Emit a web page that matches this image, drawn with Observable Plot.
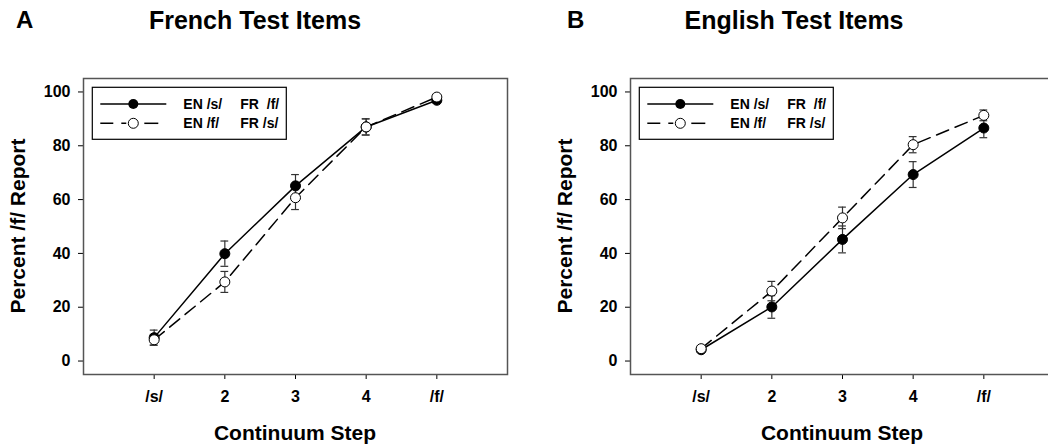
<!DOCTYPE html>
<html><head><meta charset="utf-8">
<script src="https://cdn.jsdelivr.net/npm/d3@7"></script>
<script src="https://cdn.jsdelivr.net/npm/@observablehq/plot@0.6"></script>
<style>
body{margin:0;background:#fff;}
#wrap{position:relative;width:1048px;height:445px;overflow:hidden;font-family:"Liberation Sans",Arial,sans-serif;font-weight:bold;color:#000;background:#fff;}
.abs{position:absolute;white-space:nowrap;line-height:1;}
.panel{position:absolute;top:0;width:520px;height:445px;}
.panel svg{max-width:none !important;}
</style></head><body><div id="wrap"></div>
<script>
// ---- data ----
const steps = [1, 2, 3, 4, 5];
const stepLabels = ["/s/", "2", "3", "4", "/f/"];
const yTicks = [0, 20, 40, 60, 80, 100];

const frenchSolid = [8.7, 39.9, 65.1, 87.0, 96.9];
const frenchSolidErr = [2.8, 4.7, 4.2, 3.0, 1.0];
const frenchOpen = [7.9, 29.4, 60.7, 87.0, 98.1];
const frenchOpenErr = [2.0, 3.9, 4.4, 3.0, 1.0];

const englishSolid = [4.2, 20.1, 45.2, 69.3, 86.6];
const englishSolidErr = [1.0, 4.2, 5.0, 4.8, 3.6];
const englishOpen = [4.6, 26.0, 53.2, 80.4, 91.3];
const englishOpenErr = [1.0, 3.6, 4.0, 3.0, 2.0];

const legendRows = [["EN /s/", "FR  /f/"], ["EN /f/", "FR /s/"]];
const panelLetters = ["A", "B"];
const panelTitles = ["French Test Items", "English Test Items"];
const xLabel = "Continuum Step";
const yLabel = "Percent /f/ Report";

// ---- build ----
const wrap = document.getElementById("wrap");
function rows(vals, errs) {
  return steps.map((s, i) => ({step: s, v: vals[i], lo: vals[i] - errs[i], hi: vals[i] + errs[i]}));
}
function addText(txt, style) {
  const d = document.createElement("div");
  d.className = "abs";
  d.textContent = txt;
  Object.assign(d.style, style);
  wrap.appendChild(d);
  return d;
}

function panel(offset, solid, solidErr, open, openErr, idx) {
  const S = rows(solid, solidErr), O = rows(open, openErr);
  const capHalf = 0.055;
  const errMarks = (D) => [
    Plot.ruleX(D, {x: "step", y1: "lo", y2: "hi", stroke: "#333", strokeWidth: 1.2}),
    Plot.ruleY(D, {y: "hi", x1: d => d.step - capHalf, x2: d => d.step + capHalf, stroke: "#333", strokeWidth: 1.2}),
    Plot.ruleY(D, {y: "lo", x1: d => d.step - capHalf, x2: d => d.step + capHalf, stroke: "#333", strokeWidth: 1.2})
  ];
  const p = Plot.plot({
    width: 520, height: 445,
    marginLeft: 83, marginRight: 13, marginTop: 78, marginBottom: 71,
    style: {fontFamily: "Liberation Sans, Arial, sans-serif", fontSize: "16px", fontWeight: "bold", background: "transparent", color: "#000", maxWidth: "none"},
    x: {domain: [0, 6]},
    y: {domain: [-5, 105]},
    marks: [
      Plot.axisY({ticks: yTicks, tickSize: 5, tickPadding: 8, label: null}),
      Plot.axisX({ticks: steps, tickFormat: d => stepLabels[steps.indexOf(d)], tickSize: 5, tickPadding: 11, label: null}),
      ...errMarks(S), ...errMarks(O),
      Plot.line(S, {x: "step", y: "v", stroke: "#000", strokeWidth: 1.5}),
      Plot.line(O, {x: "step", y: "v", stroke: "#000", strokeWidth: 1.5, strokeDasharray: "13,7"}),
      Plot.dot(S, {x: "step", y: "v", r: 5, fill: "#000", stroke: "#000", strokeWidth: 1}),
      Plot.dot(O, {x: "step", y: "v", r: 5, fill: "#fff", stroke: "#000", strokeWidth: 1}),
      Plot.frame({stroke: "#555", strokeWidth: 1.5})
    ]
  });
  const holder = document.createElement("div");
  holder.className = "panel";
  holder.style.left = offset + "px";
  holder.appendChild(p);
  wrap.appendChild(holder);

  // legend (inside the frame, top-left)
  const svg = d3.select(p);
  const bx = 92.3, by = 87.3, bw = 194, bh = 52;
  const g = svg.append("g").attr("text-anchor", "start");
  g.append("rect").attr("x", bx).attr("y", by).attr("width", bw).attr("height", bh)
    .attr("fill", "#fff").attr("stroke", "#000").attr("stroke-width", 1.2);
  const ry = [by + 16.7, by + 36];
  // row 1: solid
  g.append("line").attr("x1", bx + 8).attr("x2", bx + 74).attr("y1", ry[0]).attr("y2", ry[0]).attr("stroke", "#000").attr("stroke-width", 1.5);
  g.append("circle").attr("cx", bx + 41).attr("cy", ry[0]).attr("r", 5).attr("fill", "#000");
  // row 2: dashed
  g.append("line").attr("x1", bx + 8).attr("x2", bx + 34).attr("y1", ry[1]).attr("y2", ry[1]).attr("stroke", "#000").attr("stroke-width", 1.5).attr("stroke-dasharray", "13,8,6,50");
  g.append("line").attr("x1", bx + 52).attr("x2", bx + 66).attr("y1", ry[1]).attr("y2", ry[1]).attr("stroke", "#000").attr("stroke-width", 1.5);
  g.append("circle").attr("cx", bx + 41).attr("cy", ry[1]).attr("r", 5).attr("fill", "#fff").attr("stroke", "#000").attr("stroke-width", 1);
  legendRows.forEach((r, i) => {
    g.append("text").attr("x", bx + 91).attr("y", ry[i]).attr("dy", "0.35em").attr("font-size", 14).attr("font-weight", "bold").text(r[0]);
    g.append("text").attr("x", bx + 148).attr("y", ry[i]).attr("dy", "0.35em").attr("font-size", 14).attr("font-weight", "bold").attr("xml:space", "preserve").style("white-space", "pre").text(r[1]);
  });

  // titles and axis labels
  addText(panelLetters[idx], {left: (offset + (idx ? 20 : 16)) + "px", top: "8px", fontSize: "24px"});
  addText(panelTitles[idx], {left: (offset + 255 - (idx ? 8 : 0)) + "px", top: "8px", fontSize: "25px", transform: "translateX(-50%)"});
  addText(xLabel, {left: (offset + 295) + "px", top: "422px", fontSize: "21px", transform: "translateX(-50%)"});
  addText(yLabel, {left: (offset + 17) + "px", top: "226px", fontSize: "21px", transform: "translate(-50%,-50%) rotate(-90deg)"});
}

panel(0, frenchSolid, frenchSolidErr, frenchOpen, frenchOpenErr, 0);
panel(547, englishSolid, englishSolidErr, englishOpen, englishOpenErr, 1);
</script>
</body></html>
